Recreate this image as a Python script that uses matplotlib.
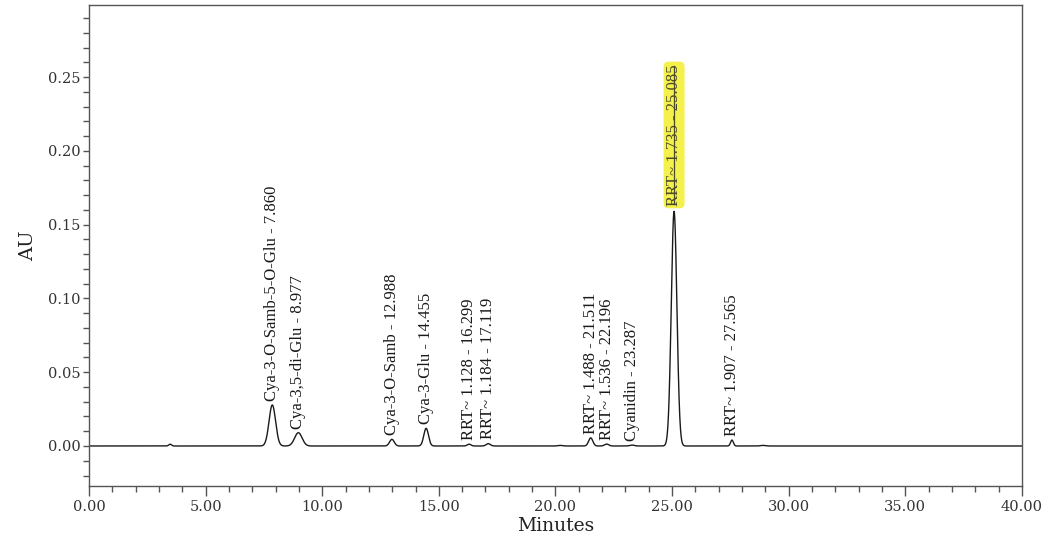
import numpy as np
import matplotlib
matplotlib.use("Agg")
import matplotlib.pyplot as plt
from matplotlib.ticker import MultipleLocator, FormatStrFormatter
from matplotlib.lines import Line2D

# Peak table: retention time (min), apex height (AU), peak width sigma (min)
retention_times = [3.48, 7.860, 8.977, 12.988, 14.455, 16.299, 17.119, 20.20,
                   21.511, 22.196, 23.287, 25.085, 27.565, 28.90]
peak_heights = [0.0012, 0.0278, 0.0090, 0.0045, 0.0120, 0.0012, 0.0016, 0.0004,
                0.0055, 0.0013, 0.0006, 0.1590, 0.0040, 0.0004]
peak_sigmas = [0.06, 0.14, 0.16, 0.10, 0.10, 0.08, 0.09, 0.10,
               0.09, 0.09, 0.10, 0.12, 0.06, 0.10]

# Named peak labels (index into the peak table)
label_index = [1, 2, 3, 4, 5, 6, 8, 9, 10, 11, 12]
peak_labels = [
    "Cya-3-O-Samb-5-O-Glu - 7.860",
    "Cya-3,5-di-Glu - 8.977",
    "Cya-3-O-Samb - 12.988",
    "Cya-3-Glu - 14.455",
    "RRT~ 1.128 - 16.299",
    "RRT~ 1.184 - 17.119",
    "RRT~ 1.488 - 21.511",
    "RRT~ 1.536 - 22.196",
    "Cyanidin - 23.287",
    "RRT~ 1.735 - 25.085",
    "RRT~ 1.907 - 27.565",
]
struck_label = "RRT~ 1.735 - 25.085"

x_ticks = [0, 5, 10, 15, 20, 25, 30, 35, 40]
y_ticks = [0.00, 0.05, 0.10, 0.15, 0.20, 0.25]

# Chromatogram trace built from the peak table
t = np.linspace(0, 40, 8001)
signal = np.zeros_like(t)
for rt, h, s in zip(retention_times, peak_heights, peak_sigmas):
    signal += h * np.exp(-0.5 * ((t - rt) / s) ** 2)

fig = plt.figure(figsize=(10.63, 5.43), dpi=100)
ax = fig.add_axes([0.0837, 0.105, 0.8777, 0.8858])

ax.plot(t, signal, color="#1a1a1a", lw=1.0)

ax.set_xlim(0, 40)
ax.set_ylim(-0.0271, 0.2988)
ax.set_xticks(x_ticks)
ax.set_yticks(y_ticks)
ax.xaxis.set_minor_locator(MultipleLocator(1))
ax.yaxis.set_minor_locator(MultipleLocator(0.01))
ax.xaxis.set_major_formatter(FormatStrFormatter("%.2f"))
ax.yaxis.set_major_formatter(FormatStrFormatter("%.2f"))

for lab in ax.get_xticklabels() + ax.get_yticklabels():
    lab.set_fontfamily("DejaVu Serif")
    lab.set_fontsize(10.5)
    lab.set_color("#333333")

ax.tick_params(axis="x", which="major", direction="out", length=7, width=1.0, pad=3, colors="#555555", labelcolor="#333333")
ax.tick_params(axis="x", which="minor", direction="out", length=4.5, width=1.0, colors="#555555")
ax.tick_params(axis="y", which="major", direction="out", length=4, width=1.0, pad=2, colors="#555555", labelcolor="#333333")
ax.tick_params(axis="y", which="minor", direction="out", length=4, width=1.0, colors="#555555")
for sp in ax.spines.values():
    sp.set_color("#555555")
    sp.set_linewidth(1.0)

ax.set_xlabel("Minutes", fontfamily="DejaVu Serif", fontsize=13.5, color="#222222", labelpad=2)
ax.set_ylabel("AU", fontfamily="DejaVu Serif", fontsize=14, color="#222222", labelpad=8)

# Peak annotations placed above each apex
struck_text = None
for idx, text in zip(label_index, peak_labels):
    rt = retention_times[idx]
    h = peak_heights[idx]
    if text == struck_label:
        struck_text = ax.annotate(
            text, xy=(rt, h), xytext=(0, 4), textcoords="offset points",
            rotation=90, ha="center", va="bottom",
            fontfamily="Liberation Serif", fontsize=12, color="#4a4a2a",
            bbox=dict(boxstyle="round,pad=0.15,rounding_size=0.3",
                      facecolor="#f4f04c", edgecolor="none"))
    else:
        ax.annotate(
            text, xy=(rt, h), xytext=(0, 3), textcoords="offset points",
            rotation=90, ha="center", va="bottom",
            fontfamily="Liberation Serif", fontsize=12, color="#1a1a1a")

# Strike through the highlighted label
fig.canvas.draw()
renderer = fig.canvas.get_renderer()
bb = struck_text.get_window_extent(renderer)
inv = fig.transFigure.inverted()
(x0, y0) = inv.transform((bb.x0 + bb.width * 0.5, bb.y0 + 2))
(x1, y1) = inv.transform((bb.x0 + bb.width * 0.5, bb.y1 - 2))
fig.add_artist(Line2D([x0, x1], [y0, y1], transform=fig.transFigure,
                      color="#4a4a2a", lw=0.9))

fig.savefig("out.png", dpi=100)
